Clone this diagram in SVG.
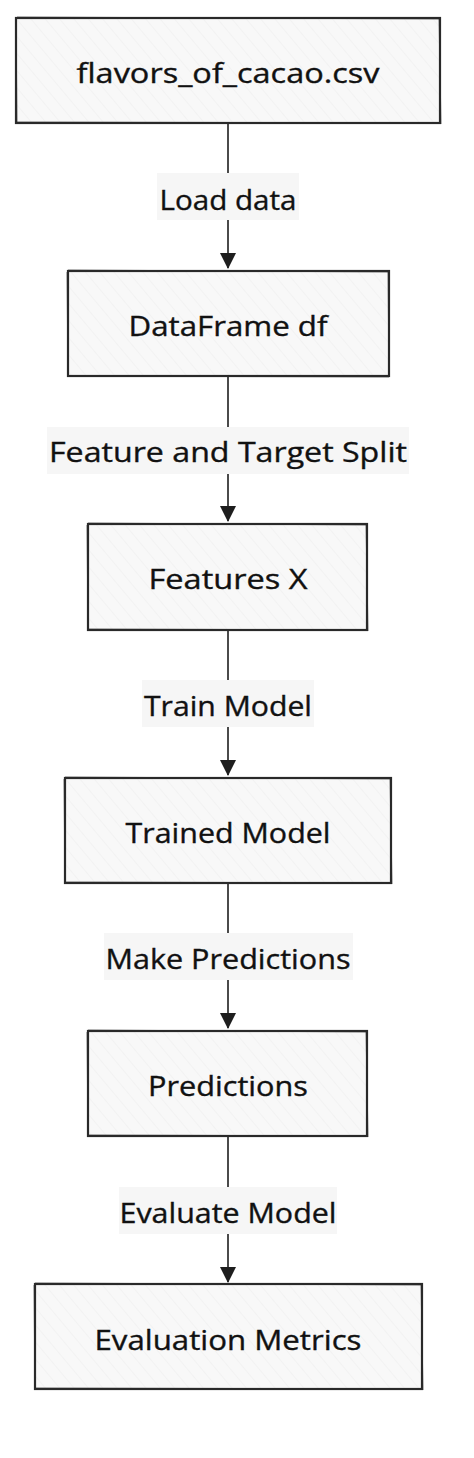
<svg xmlns="http://www.w3.org/2000/svg" width="474" height="1458" viewBox="0 0 474 1458">
<style>
.box{fill:url(#hatch);stroke:#2a2a2a;stroke-width:2.2}
.sk{fill:none;stroke:#2a2a2a;stroke-width:1;opacity:0.6}
.t{font-family:"Open Sans","Liberation Sans",sans-serif;font-size:27px;fill:#111111;text-anchor:middle;stroke:#111111;stroke-width:0.35}
.lb{fill:#f6f6f6}
.ln{stroke:#1e1e1e;stroke-width:1.6;fill:none}
</style>
<defs>
<pattern id="hatch" patternUnits="userSpaceOnUse" width="11" height="11" patternTransform="rotate(-40)">
<rect width="11" height="11" fill="#f8f8f8"/>
<line x1="0" y1="0" x2="0" y2="11" stroke="#ececec" stroke-width="1"/>
</pattern>
<marker id="arr" markerWidth="16" markerHeight="16" refX="15" refY="8" orient="auto" markerUnits="userSpaceOnUse">
<path d="M0,0 L16,8 L0,16 Z" fill="#1e1e1e"/>
</marker>
</defs>
<rect width="474" height="1458" fill="#ffffff"/>

<g id="connectors">
<g id="e1">
<line class="ln" x1="228" y1="123" x2="228" y2="268" marker-end="url(#arr)"/>
<rect class="lb" x="157" y="173" width="142" height="47"/>
<text class="t" x="228" y="210" textLength="137" lengthAdjust="spacingAndGlyphs">Load data</text>
</g>
<g id="e2">
<line class="ln" x1="228" y1="377" x2="228" y2="521" marker-end="url(#arr)"/>
<rect class="lb" x="47" y="427" width="362" height="47"/>
<text class="t" x="228" y="462" textLength="358" lengthAdjust="spacingAndGlyphs">Feature and Target Split</text>
</g>
<g id="e3">
<line class="ln" x1="228" y1="630" x2="228" y2="775" marker-end="url(#arr)"/>
<rect class="lb" x="142" y="680" width="172" height="47"/>
<text class="t" x="228" y="716" textLength="168" lengthAdjust="spacingAndGlyphs">Train Model</text>
</g>
<g id="e4">
<line class="ln" x1="228" y1="883" x2="228" y2="1028" marker-end="url(#arr)"/>
<rect class="lb" x="104" y="933" width="249" height="47"/>
<text class="t" x="228" y="969" textLength="245" lengthAdjust="spacingAndGlyphs">Make Predictions</text>
</g>
<g id="e5">
<line class="ln" x1="228" y1="1136" x2="228" y2="1282" marker-end="url(#arr)"/>
<rect class="lb" x="119" y="1187" width="218" height="47"/>
<text class="t" x="228" y="1223" textLength="217" lengthAdjust="spacingAndGlyphs">Evaluate Model</text>
</g>
</g>

<g id="n1">
<rect class="box" x="16" y="18" width="424" height="105"/>
<path class="sk" d="M17,17 L441,19 M439,17 L441,124 M15,122 L440,123 M16,19 L17,123"/>
<text class="t" x="228" y="83" textLength="303" lengthAdjust="spacingAndGlyphs">flavors_of_cacao.csv</text>
</g>
<g id="n2">
<rect class="box" x="68" y="271" width="321" height="105"/>
<path class="sk" d="M68,270 L389,272 M388,270 L389,377 M67,376 L389,377 M67,272 L68,376"/>
<text class="t" x="228" y="336" textLength="199" lengthAdjust="spacingAndGlyphs">DataFrame df</text>
</g>
<g id="n3">
<rect class="box" x="88" y="524" width="279" height="106"/>
<path class="sk" d="M88,523 L368,525 M366,523 L368,631 M87,629 L367,630 M87,525 L88,630"/>
<text class="t" x="228" y="589" textLength="159" lengthAdjust="spacingAndGlyphs">Features X</text>
</g>
<g id="n4">
<rect class="box" x="65" y="778" width="326" height="105"/>
<path class="sk" d="M65,777 L392,779 M390,777 L392,884 M64,882 L391,883 M64,779 L65,883"/>
<text class="t" x="228" y="843" textLength="205" lengthAdjust="spacingAndGlyphs">Trained Model</text>
</g>
<g id="n5">
<rect class="box" x="88" y="1031" width="279" height="105"/>
<path class="sk" d="M88,1030 L368,1032 M366,1030 L368,1137 M87,1135 L367,1136 M87,1032 L88,1136"/>
<text class="t" x="228" y="1096" textLength="160" lengthAdjust="spacingAndGlyphs">Predictions</text>
</g>
<g id="n6">
<rect class="box" x="35" y="1284" width="387" height="105"/>
<path class="sk" d="M35,1283 L423,1285 M421,1283 L423,1390 M34,1388 L422,1389 M34,1285 L35,1389"/>
<text class="t" x="228" y="1350" textLength="267" lengthAdjust="spacingAndGlyphs">Evaluation Metrics</text>
</g>
</svg>
